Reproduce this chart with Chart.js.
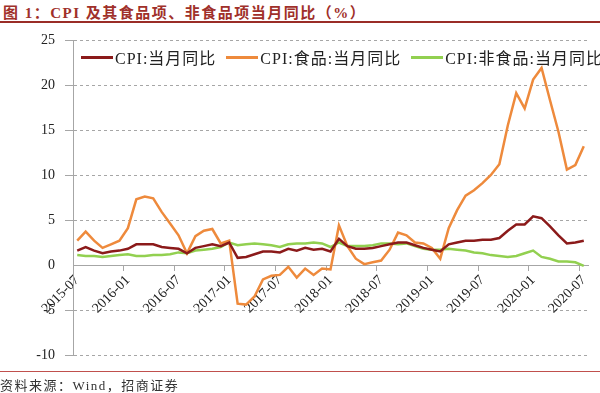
<!DOCTYPE html>
<html>
<head>
<meta charset="utf-8">
<script src="https://cdn.jsdelivr.net/npm/chart.js@4/dist/chart.umd.min.js"></script>
<style>
  body { margin: 0; width: 600px; height: 393px; position: relative; overflow: hidden; background: #fff; }
  #title { position: absolute; left: 3px; top: 1px; font: bold 15px "Liberation Serif", "Noto Sans CJK SC"; letter-spacing: 1.5px; color: #a0302a; white-space: nowrap; }
  .rule { position: absolute; left: 0; width: 600px; }
  #wrap { position: absolute; left: 0; top: 0; width: 600px; height: 393px; }
  #legend { position: absolute; left: 81px; top: 45px; display: flex; font: 16px "Liberation Serif", "Noto Sans CJK SC"; letter-spacing: 1px; color: #222; white-space: nowrap; }
  #legend .item { display: flex; align-items: center; margin-right: 10px; }
  #legend .swatch { width: 32px; height: 3px; margin-right: 2px; }
  #source { position: absolute; left: 0; top: 375px; font: 13px "Liberation Serif", "Noto Sans CJK SC"; letter-spacing: 1.5px; color: #333; white-space: nowrap; }
</style>
</head>
<body>
<div id="title">图 1：CPI 及其食品项、非食品项当月同比（%）</div>
<div class="rule" style="top:21px;height:2px;background:#9a2d27"></div>
<div id="wrap"><canvas id="chart" width="600" height="393"></canvas></div>
<div id="legend"></div>
<div class="rule" style="top:371px;height:1px;background:#c0504d"></div>
<div id="source">资料来源：Wind，招商证券</div>
<script>
// ---- 数据 ----
const months = [
  '2015-07','2015-08','2015-09','2015-10','2015-11','2015-12',
  '2016-01','2016-02','2016-03','2016-04','2016-05','2016-06','2016-07','2016-08','2016-09','2016-10','2016-11','2016-12',
  '2017-01','2017-02','2017-03','2017-04','2017-05','2017-06','2017-07','2017-08','2017-09','2017-10','2017-11','2017-12',
  '2018-01','2018-02','2018-03','2018-04','2018-05','2018-06','2018-07','2018-08','2018-09','2018-10','2018-11','2018-12',
  '2019-01','2019-02','2019-03','2019-04','2019-05','2019-06','2019-07','2019-08','2019-09','2019-10','2019-11','2019-12',
  '2020-01','2020-02','2020-03','2020-04','2020-05','2020-06','2020-07'
];
const cpiAll = [
  1.6, 2.0, 1.6, 1.3, 1.5, 1.6,
  1.8, 2.3, 2.3, 2.3, 2.0, 1.9, 1.8, 1.3, 1.9, 2.1, 2.3, 2.1,
  2.5, 0.8, 0.9, 1.2, 1.5, 1.5, 1.4, 1.8, 1.6, 1.9, 1.7, 1.8,
  1.5, 2.9, 2.1, 1.8, 1.8, 1.9, 2.1, 2.3, 2.5, 2.5, 2.2, 1.9,
  1.7, 1.5, 2.3, 2.5, 2.7, 2.7, 2.8, 2.8, 3.0, 3.8, 4.5, 4.5,
  5.4, 5.2, 4.3, 3.3, 2.4, 2.5, 2.7
];
const cpiFood = [
  2.7, 3.7, 2.7, 1.9, 2.3, 2.7,
  4.1, 7.3, 7.6, 7.4, 5.9, 4.6, 3.3, 1.3, 3.2, 3.8, 4.0, 2.4,
  2.7, -4.3, -4.4, -3.5, -1.6, -1.2, -1.1, -0.2, -1.4, -0.4, -1.1, -0.4,
  -0.5, 4.4, 2.1, 0.7, 0.1, 0.3, 0.5, 1.7, 3.6, 3.3, 2.5, 2.4,
  1.9, 0.7, 4.1, 6.1, 7.7, 8.3, 9.1, 10.0, 11.2, 15.5, 19.1, 17.4,
  20.6, 21.9, 18.3, 14.8, 10.6, 11.1, 13.2
];
const cpiNonFood = [
  1.1, 1.0, 1.0, 0.9, 1.0, 1.1,
  1.2, 1.0, 1.0, 1.1, 1.1, 1.2, 1.4, 1.3, 1.6, 1.7, 1.8, 2.0,
  2.5, 2.2, 2.3, 2.4, 2.3, 2.2, 2.0, 2.3, 2.4, 2.4, 2.5, 2.4,
  2.0, 2.5, 2.1, 2.1, 2.1, 2.2, 2.4, 2.4, 2.3, 2.4, 2.1, 1.8,
  1.7, 1.7, 1.8, 1.7, 1.6, 1.4, 1.3, 1.1, 1.0, 0.9, 1.0, 1.3,
  1.6, 0.9, 0.7, 0.4, 0.4, 0.3, -0.1
];
const seriesNames = ['CPI:当月同比', 'CPI:食品:当月同比', 'CPI:非食品:当月同比'];
const seriesColors = ['#8b1a1a', '#ee8a3c', '#92d050'];

const serif = '"Liberation Serif", "Noto Sans CJK SC"';
const axisGray = '#a6a6a6';

function line(label, data, color) {
  return { label: label, data: data, borderColor: color, backgroundColor: color,
    borderWidth: 2.5, pointRadius: 0, tension: 0, fill: false };
}

const chart = new Chart(document.getElementById('chart'), {
  type: 'line',
  data: {
    labels: months,
    datasets: [
      line(seriesNames[0], cpiAll, seriesColors[0]),
      line(seriesNames[1], cpiFood, seriesColors[1]),
      line(seriesNames[2], cpiNonFood, seriesColors[2])
    ]
  },
  options: {
    responsive: false, animation: false, devicePixelRatio: 1,
    layout: { padding: { left: 0, right: 12, top: 40, bottom: 38 } },
    plugins: { legend: { display: false }, tooltip: { enabled: false } },
    scales: {
      x: {
        type: 'category', offset: true, position: { y: 0 },
        afterFit: (s) => { s.height = 0; },
        grid: {
          offset: true, drawOnChartArea: false, tickLength: 5,
          color: (ctx) => ctx.index % 6 === 0 ? axisGray : 'rgba(0,0,0,0)'
        },
        border: { color: axisGray, width: 1 },
        ticks: {
          autoSkip: false, maxRotation: 45, minRotation: 45, padding: 2,
          color: '#222', font: { family: serif, size: 14 },
          callback: function (v, i) { return i % 6 === 0 ? this.getLabelForValue(v) : ''; }
        }
      },
      y: {
        min: -10, max: 25,
        afterFit: (s) => { s.width = 73; },
        grid: {
          tickLength: 8,
          color: (ctx) => ctx.tick && ctx.tick.value === 0 ? 'rgba(0,0,0,0)' : '#a6a6a6'
        },
        border: { color: axisGray, width: 1, dash: [3, 3] },
        ticks: { stepSize: 5, padding: 10, color: '#222', font: { family: serif, size: 14 } }
      }
    }
  }
});

// 图例 (HTML, 放在绘图区内)
const legendBox = document.getElementById('legend');
chart.data.datasets.forEach((ds) => {
  const item = document.createElement('div');
  item.className = 'item';
  const sw = document.createElement('span');
  sw.className = 'swatch';
  sw.style.background = ds.borderColor;
  const txt = document.createElement('span');
  txt.textContent = ds.label;
  item.appendChild(sw);
  item.appendChild(txt);
  legendBox.appendChild(item);
});
</script>
</body>
</html>
